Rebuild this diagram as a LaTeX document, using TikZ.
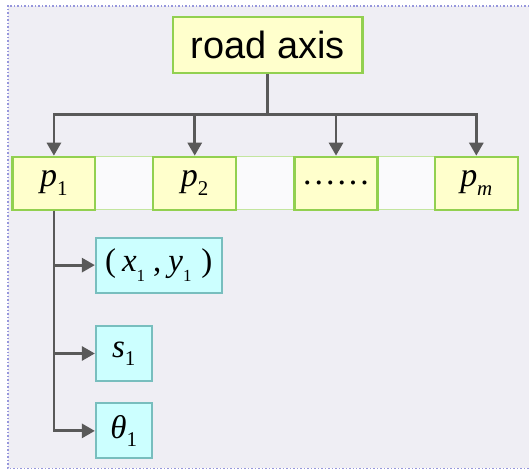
\documentclass[tikz,border=0pt]{standalone}
\usepackage{fontspec}
\setmainfont{Liberation Serif}
\newfontfamily\arial{Liberation Sans}
\usetikzlibrary{arrows.meta}
\definecolor{bglav}{RGB}{239,238,244}
\definecolor{dotc}{RGB}{150,150,220}
\definecolor{gbord}{RGB}{146,208,80}
\definecolor{yfill}{RGB}{255,255,204}
\definecolor{cfill}{RGB}{204,255,255}
\definecolor{cbord}{RGB}{120,190,190}
\definecolor{linec}{RGB}{89,89,89}
\definecolor{stripc}{RGB}{250,250,252}
\newcommand{\msub}[2]{\textit{#1}\raisebox{-0.25em}{\fontsize{21}{21}\selectfont #2}}
\newcommand{\ssub}[2]{\textit{#1}\raisebox{-0.3em}{\fontsize{17}{17}\selectfont #2}}
\begin{document}
\begin{tikzpicture}[x=1pt,y=-1pt,
  ybox/.style={draw=gbord,line width=2.2pt,fill=yfill,inner sep=0pt,minimum height=53pt,minimum width=83pt,font=\fontsize{34}{34}\selectfont},
  cbox/.style={draw=cbord,line width=2pt,fill=cfill,inner sep=0pt,minimum height=55pt,font=\fontsize{33}{33}\selectfont},
  arr/.style={draw=linec,line width=2.8pt,-{Triangle[length=13pt,width=14pt]}},
  ln/.style={draw=linec,line width=2.8pt}]
\fill[white] (0,0) rectangle (530,470);
\fill[bglav] (8,6) rectangle (530,469);
\draw[dotc,line width=1.5pt,dotted] (530,6) -- (8,6) -- (8,469) -- (530,469);
% strip
\node[draw=gbord!55,line width=1pt,fill=stripc,minimum width=505pt,minimum height=53pt,inner sep=0pt] (strip) at (265.5,183.5) {};
% top node
\node[draw=gbord,line width=2.2pt,fill=yfill,inner sep=0pt,minimum width=190pt,minimum height=56pt,font=\arial\fontsize{38}{38}\selectfont] (road) at (268,45) {road axis};
\node[ybox] (p1) at (54,183.5) {\msub{p}{1}};
\node[ybox] (p2) at (195,183.5) {\msub{p}{2}};
\node[ybox] (pd) at (336.5,183.5) {.\hspace{3pt}.\hspace{3pt}.\hspace{3pt}.\hspace{3pt}.\hspace{3pt}.};
\node[ybox] (pm) at (477,183.5) {\msub{p}{\textit{m}}};
\coordinate (bus) at (268,115);
\draw[ln] (road.south) -- (bus);
\draw[arr] (bus) -| (p1.north);
\draw[arr] (bus) -| (p2.north);
\draw[arr] (bus) -| (pd.north);
\draw[arr] (bus) -| (pm.north);
% cyan boxes
\node[cbox,minimum width=126pt] (xy) at (159,265.5) {(\kern6pt\ssub{x}{1}\kern8pt,\kern7pt\ssub{y}{1}\kern10pt)};
\node[cbox,minimum width=56pt,minimum height=56pt] (s1) at (124,354) {\msub{s}{1}};
\node[cbox,minimum width=56pt] (th) at (124,431.5) {\msub{θ}{1}};
\draw[arr] (p1.south) |- (xy.west);
\draw[arr] (p1.south) |- (s1.west);
\draw[arr] (p1.south) |- (th.west);
\end{tikzpicture}
\end{document}
